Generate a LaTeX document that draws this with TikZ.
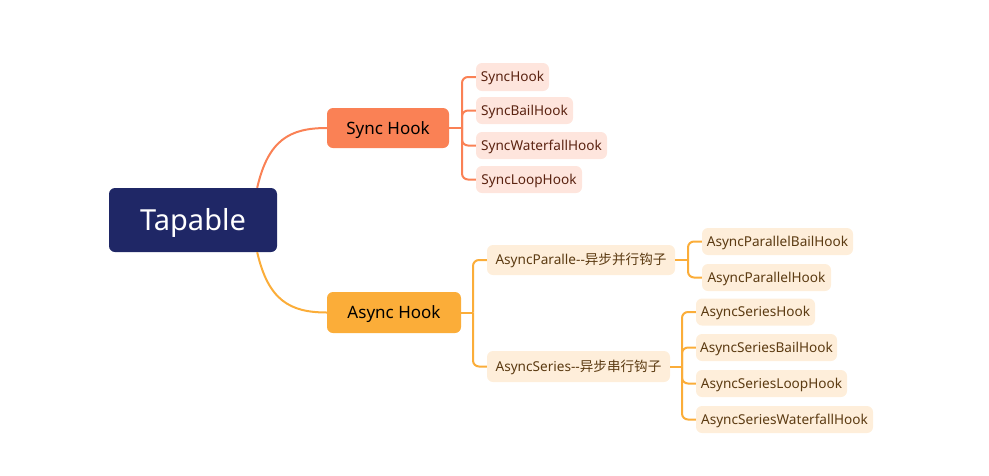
\documentclass[tikz,border=0pt]{standalone}
\usepackage{fontspec}
\usetikzlibrary{calc}
\setmainfont{Noto Sans}
\newfontfamily\cjk{Noto Sans CJK SC}
\definecolor{navy}{HTML}{1F2766}
\definecolor{coral}{HTML}{FA8155}
\definecolor{amber}{HTML}{FBAD39}
\definecolor{coralfill}{HTML}{FEE5DD}
\definecolor{amberfill}{HTML}{FEEEDA}
\definecolor{coraltext}{HTML}{5B2311}
\definecolor{ambertext}{HTML}{5C3B12}
\tikzset{
  box/.style={rectangle, inner sep=0pt, anchor=center, text depth=0pt},
  rootbox/.style={box, fill=navy, rounded corners=6pt, text=white, font=\fontsize{29}{31}\selectfont, text height=20.6pt},
  syncbox/.style={box, fill=coral, rounded corners=6pt, text=black, font=\fontsize{17}{19}\selectfont, text height=12.1pt},
  asyncbox/.style={box, fill=amber, rounded corners=6pt, text=black, font=\fontsize{17}{19}\selectfont, text height=12.1pt},
  syncleaf/.style={box, fill=coralfill, rounded corners=6pt, text=coraltext, font=\fontsize{13.6}{15}\selectfont, text height=9.7pt},
  asyncleaf/.style={box, fill=amberfill, rounded corners=6pt, text=ambertext, font=\fontsize{13.6}{15}\selectfont, text height=9.7pt},
  synclink/.style={draw=coral, line width=2pt},
  asynclink/.style={draw=amber, line width=2pt},
}
\begin{document}
\begin{tikzpicture}[x=1pt,y=-1pt]
\useasboundingbox (0,0) rectangle (989,475);
% root
\node[rootbox, minimum width=168pt, minimum height=64pt] (tap) at (193,220) {Tapable};
% level 1
\node[syncbox, minimum width=122pt, minimum height=40pt] (sync) at (388,128) {Sync Hook};
\node[asyncbox, minimum width=134pt, minimum height=41pt] (async) at (394,312.5) {Async Hook};
% sync leaves
\node[syncleaf, minimum width=73pt, minimum height=28pt] (s1) at (512.5,77) {SyncHook};
\node[syncleaf, minimum width=97pt, minimum height=27pt] (s2) at (524.5,110.5) {SyncBailHook};
\node[syncleaf, minimum width=131pt, minimum height=27pt] (s3) at (541.5,145.5) {SyncWaterfallHook};
\node[syncleaf, minimum width=106pt, minimum height=27pt] (s4) at (529,179.5) {SyncLoopHook};
% async level 2
\node[asyncleaf, minimum width=188pt, minimum height=30pt] (ap) at (581,260) {AsyncParalle-{}-{\cjk 异步并行钩子}};
\node[asyncleaf, minimum width=183pt, minimum height=31pt] (as) at (578.5,366.5) {AsyncSeries-{}-{\cjk 异步串行钩子}};
% async leaves
\node[asyncleaf, minimum width=151pt, minimum height=27pt] (ap1) at (777.5,241.5) {AsyncParallelBailHook};
\node[asyncleaf, minimum width=129pt, minimum height=27pt] (ap2) at (766.5,277.5) {AsyncParallelHook};
\node[asyncleaf, minimum width=119pt, minimum height=27pt] (as1) at (755.5,312) {AsyncSeriesHook};
\node[asyncleaf, minimum width=141pt, minimum height=27pt] (as2) at (766.5,347.5) {AsyncSeriesBailHook};
\node[asyncleaf, minimum width=151pt, minimum height=27pt] (as3) at (771.5,383.5) {AsyncSeriesLoopHook};
\node[asyncleaf, minimum width=177pt, minimum height=27pt] (as4) at (784.5,419.5) {AsyncSeriesWaterfallHook};
% root curves
\coordinate (tapN) at ($(tap.north east)+(-20,0)$);
\coordinate (tapS) at ($(tap.south east)+(-20,0)$);
\path[synclink] (tapN) .. controls +(11,-48) and +(-37,0) .. (sync.west);
\path[asynclink] (tapS) .. controls +(11,48) and +(-37,0) .. (async.west);
% sync bracket
\coordinate (sj) at (462,128);
\path[synclink] (sync.east) -- (sj);
\foreach \c in {s1,s2,s3,s4}{\path[synclink, rounded corners=6pt] (sj) |- (\c.west);}
% async bracket
\coordinate (aj) at (473,312.5);
\path[asynclink] (async.east) -- (aj);
\foreach \c in {ap,as}{\path[asynclink, rounded corners=6pt] (aj) |- (\c.west);}
\coordinate (apj) at (688,260);
\path[asynclink] (ap.east) -- (apj);
\foreach \c in {ap1,ap2}{\path[asynclink, rounded corners=6pt] (apj) |- (\c.west);}
\coordinate (asj) at (682,366.5);
\path[asynclink] (as.east) -- (asj);
\foreach \c in {as1,as2,as3,as4}{\path[asynclink, rounded corners=6pt] (asj) |- (\c.west);}
\end{tikzpicture}
\end{document}
